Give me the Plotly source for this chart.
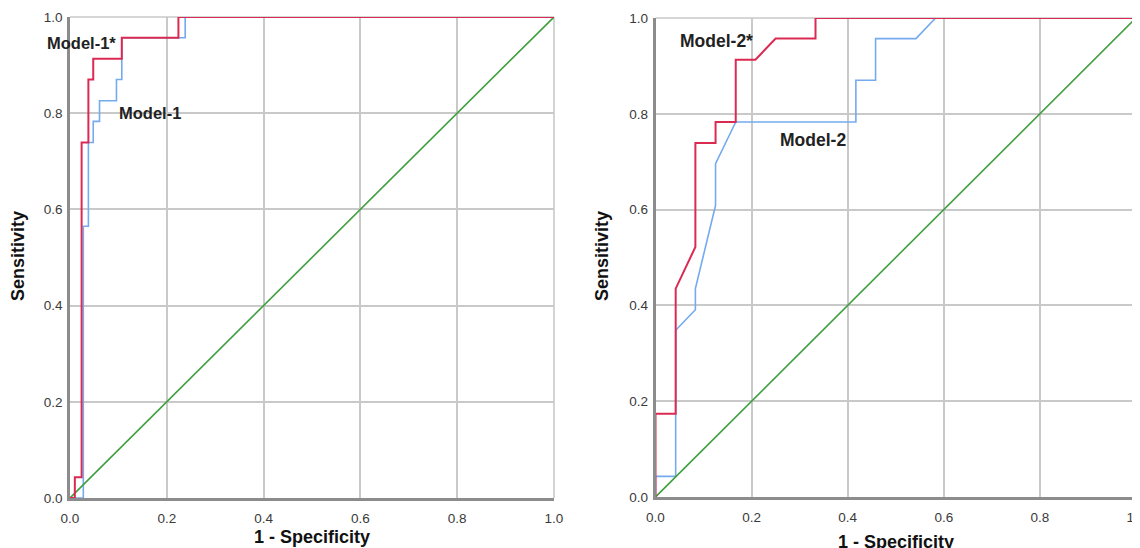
import plotly.graph_objects as go

# ---- data ----
diag_x = [0.0, 1.0]
diag_y = [0.0, 1.0]

m1s_x = [0, 0.010, 0.010, 0.024, 0.024, 0.038, 0.038, 0.048, 0.048, 0.107, 0.107, 0.224, 0.224, 1.0]
m1s_y = [0, 0, 0.043, 0.043, 0.739, 0.739, 0.870, 0.870, 0.913, 0.913, 0.957, 0.957, 1.0, 1.0]

m1_x = [0, 0.0275, 0.0275, 0.038, 0.038, 0.048, 0.048, 0.061, 0.061, 0.096, 0.096, 0.107, 0.107, 0.238, 0.238, 1.0]
m1_y = [0, 0, 0.565, 0.565, 0.739, 0.739, 0.783, 0.783, 0.826, 0.826, 0.870, 0.870, 0.957, 0.957, 1.0, 1.0]

m2s_x = [0, 0, 0.042, 0.042, 0.083, 0.083, 0.125, 0.125, 0.167, 0.167, 0.208, 0.250, 0.333, 0.333, 1.0]
m2s_y = [0, 0.174, 0.174, 0.435, 0.522, 0.739, 0.739, 0.783, 0.783, 0.913, 0.913, 0.957, 0.957, 1.0, 1.0]

m2_x = [0, 0, 0.042, 0.042, 0.083, 0.083, 0.125, 0.125, 0.167, 0.417, 0.417, 0.458, 0.458, 0.542, 0.583, 1.0]
m2_y = [0, 0.043, 0.043, 0.348, 0.391, 0.435, 0.609, 0.696, 0.783, 0.783, 0.870, 0.870, 0.957, 0.957, 1.0, 1.0]

tick_vals = [0.0, 0.2, 0.4, 0.6, 0.8, 1.0]
tick_text = ["0.0", "0.2", "0.4", "0.6", "0.8", "1.0"]

x_title = "1 - Specificity"
y_title = "Sensitivity"

RED = "#db2a52"
BLUE = "#74aaee"
GREEN = "#3f9e3f"
GRID = "#c9c9c9"
AXIS = "#8c8c8c"
FONT = "Liberation Sans, Arial, sans-serif"

W, H = 1140, 548
OFF = 8  # page body margin


def px(x):
    return (x - OFF) / W


def py(y):
    return (H - (y - OFF)) / H


fig = go.Figure()


def add_panel(xa, ya, sx, sy, rx, ry):
    fig.add_trace(go.Scatter(x=sx, y=sy, xaxis=xa, yaxis=ya, mode="lines",
                             line=dict(color=BLUE, width=1.6), showlegend=False, hoverinfo="skip"))
    fig.add_trace(go.Scatter(x=diag_x, y=diag_y, xaxis=xa, yaxis=ya, mode="lines",
                             line=dict(color=GREEN, width=1.6), showlegend=False, hoverinfo="skip"))
    fig.add_trace(go.Scatter(x=rx, y=ry, xaxis=xa, yaxis=ya, mode="lines",
                             line=dict(color=RED, width=2), showlegend=False, hoverinfo="skip"))


add_panel("x", "y", m1_x, m1_y, m1s_x, m1s_y)
add_panel("x2", "y2", m2_x, m2_y, m2s_x, m2s_y)


def xaxis(dom, anchor):
    return dict(domain=dom, anchor=anchor, range=[0, 1], tickvals=tick_vals, ticktext=tick_text,
                showgrid=True, gridcolor=GRID, gridwidth=1.6, zeroline=False,
                showline=True, linecolor=AXIS, linewidth=2.5, ticks="",
                ticklabelstandoff=6, automargin=False,
                tickfont=dict(family=FONT, size=13.5, color="#3a3a3a"), fixedrange=True)


def yaxis(dom, anchor):
    return dict(domain=dom, anchor=anchor, range=[0, 1], tickvals=tick_vals, ticktext=tick_text,
                showgrid=True, gridcolor=GRID, gridwidth=1.6, zeroline=False,
                showline=True, linecolor=AXIS, linewidth=2.5, ticks="",
                ticklabelstandoff=2, automargin=False,
                tickfont=dict(family=FONT, size=13.5, color="#3a3a3a"), fixedrange=True)


L_x = [px(70), px(554)]
L_y = [py(498), py(17)]
R_x = [px(655.5), px(1136)]
R_y = [py(497), py(18)]

fig.update_layout(
    width=W, height=H,
    margin=dict(l=0, r=0, t=0, b=0, autoexpand=False),
    paper_bgcolor="white", plot_bgcolor="white",
    xaxis=xaxis(L_x, "y"), yaxis=yaxis(L_y, "x"),
    xaxis2=xaxis(R_x, "y2"), yaxis2=yaxis(R_y, "x2"),
)

# edge gridlines at 1.0 (top and right)
for xr, yr in [("x", "y"), ("x2", "y2")]:
    fig.add_shape(type="line", xref=f"{xr} domain", yref=f"{yr} domain", x0=1, x1=1, y0=0, y1=1,
                  line=dict(color=GRID, width=1.6), layer="below")
    fig.add_shape(type="line", xref=f"{xr} domain", yref=f"{yr} domain", x0=0, x1=1, y0=1, y1=1,
                  line=dict(color=GRID, width=1.6), layer="below")

title_font = dict(family=FONT, size=18, color="#111111")
lab_font = dict(family=FONT, size=16.5, color="#222222")

ann = [
    dict(text=f"<b>{x_title}</b>", x=px(312), y=py(537), font=title_font),
    dict(text=f"<b>{x_title}</b>", x=px(896), y=py(542), font=title_font),
    dict(text=f"<b>{y_title}</b>", x=px(18), y=py(256), font=title_font, textangle=-90),
    dict(text=f"<b>{y_title}</b>", x=px(602), y=py(256), font=title_font, textangle=-90),
]
for a in ann:
    a.update(xref="paper", yref="paper", showarrow=False, xanchor="center", yanchor="middle")
    fig.add_annotation(**a)

fig.add_annotation(text="<b>Model-1*</b>", x=0.024, y=0.946, xref="x", yref="y", showarrow=False,
                   font=lab_font, xanchor="center", yanchor="middle")
fig.add_annotation(text="<b>Model-1</b>", x=0.165, y=0.80, xref="x", yref="y", showarrow=False,
                   font=lab_font, xanchor="center", yanchor="middle")
fig.add_annotation(text="<b>Model-2*</b>", x=0.127, y=0.953, xref="x2", yref="y2", showarrow=False,
                   font=dict(family=FONT, size=17.5, color="#222222"), xanchor="center", yanchor="middle")
fig.add_annotation(text="<b>Model-2</b>", x=0.327, y=0.745, xref="x2", yref="y2", showarrow=False,
                   font=dict(family=FONT, size=17.5, color="#222222"), xanchor="center", yanchor="middle")

fig.write_html("out.html")
